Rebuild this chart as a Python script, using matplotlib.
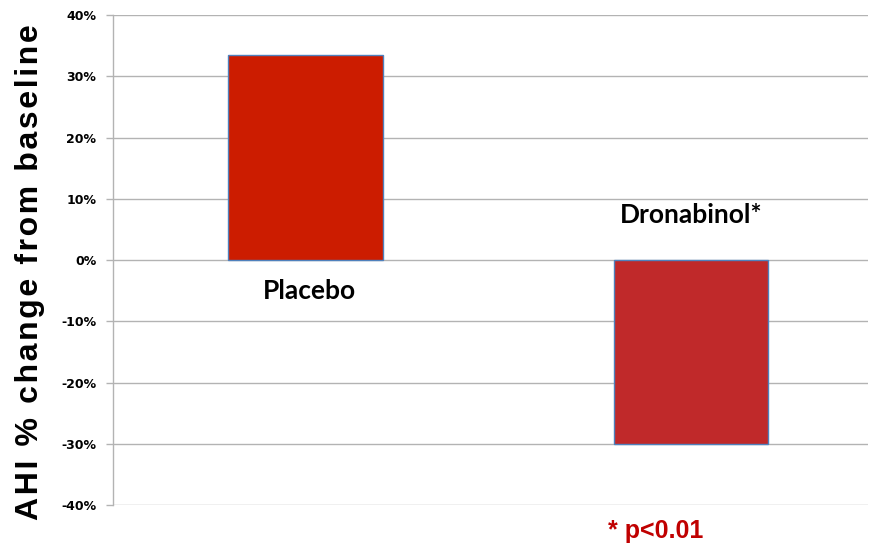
import numpy as np
import matplotlib.pyplot as plt

# data
groups = ['Placebo', 'Dronabinol*']
ahi_change = [33.5, -30.0]
bar_colors = ['#cc1c00', '#c0292a']
yticks = [40, 30, 20, 10, 0, -10, -20, -30, -40]

fig = plt.figure(figsize=(8.69, 5.45), dpi=100)
ax = fig.add_axes([0.130, 0.0734, 0.869, 0.899])

x = np.arange(len(groups))
ax.bar(x, ahi_change, width=0.40, color=bar_colors, edgecolor='#4f81bd',
       linewidth=1.0, zorder=3)

ax.set_ylim(-40, 40)
ax.set_xlim(-0.499, 1.459)
ax.set_yticks(yticks)
ax.set_yticklabels(['%d%%' % v for v in yticks], fontsize=9, fontweight='bold',
                   family='DejaVu Sans')
ax.set_xticks([])
ax.yaxis.grid(True, color='#b3b3b3', linewidth=1.0, zorder=0)
ax.tick_params(axis='y', length=5, color='#b3b3b3', width=1.0, pad=7)

for side in ['top', 'right', 'bottom']:
    ax.spines[side].set_visible(False)
ax.spines['left'].set_color('#b3b3b3')
ax.spines['left'].set_linewidth(1.0)

label = '\u200a'.join('AHI % change from baseline')
ax.set_ylabel(label, fontsize=23, fontweight='bold',
              family=['Liberation Sans', 'DejaVu Sans'])
ax.yaxis.set_label_coords(-0.090, 0.476)

# bar labels
ax.text(0.01, -6.4, 'Placebo', ha='center', va='baseline', fontsize=19,
        fontweight='bold', family='Lato')
ax.text(1.0, 6.0, 'Dronabinol*', ha='center', va='baseline', fontsize=19,
        fontweight='bold', family='Lato')
ax.text(0.909, -45.4, '* p<0.01', ha='center', va='baseline', fontsize=18,
        fontweight='bold', family='Liberation Sans', color='#c00000',
        clip_on=False)

fig.savefig('out.png', dpi=100)
